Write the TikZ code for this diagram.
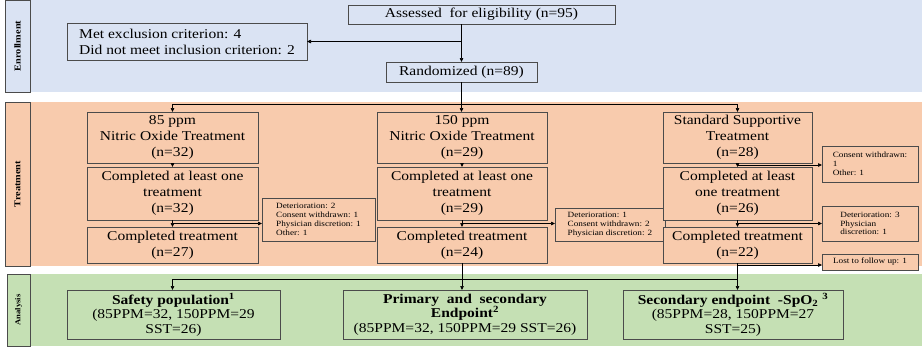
\documentclass[tikz,border=0pt]{standalone}
\usepackage{fontspec}
\setmainfont{Liberation Serif}[FakeStretch=1.15]
\usetikzlibrary{arrows.meta,calc}
\definecolor{enrbg}{RGB}{218,227,243}
\definecolor{trtbg}{RGB}{248,203,173}
\definecolor{anabg}{RGB}{197,224,180}
\definecolor{edge}{RGB}{75,75,75}
\tikzset{
  box/.style={draw=edge, line width=0.8pt, inner sep=2pt, outer sep=0pt, align=center},
  big/.style={font=\fontsize{13.5}{16}\selectfont},
  anatext/.style={font=\fontsize{13.5}{14.5}\selectfont},
  small/.style={font=\fontsize{8}{8.8}\selectfont, align=left, inner xsep=5pt},
  lblbox/.style={draw=edge, line width=0.8pt, inner sep=0pt},
  arr/.style={draw=black, line width=0.7pt, -{Triangle[length=4pt,width=3.5pt]}},
  ln/.style={draw=black, line width=0.7pt},
}
\begin{document}
\begin{tikzpicture}[x=1pt,y=-1pt]
\useasboundingbox (0,0) rectangle (922,346);
% bands
\fill[enrbg] (5,0) rectangle (922,92);
\fill[trtbg] (5,102) rectangle (922,266);
\fill[anabg] (7,274) rectangle (922,346);
\node[lblbox, fill=enrbg, minimum width=25pt, minimum height=92pt, font=\fontsize{9}{10}\selectfont] (lenr) at (17.5,46) {\rotatebox{90}{\textbf{Enrollment}}};
\node[lblbox, fill=trtbg, minimum width=25pt, minimum height=164pt, font=\fontsize{9}{10}\selectfont] (ltrt) at (17.5,184) {\rotatebox{90}{\textbf{Treatment}}};
\node[lblbox, fill=anabg, minimum width=23pt, minimum height=72pt, font=\fontsize{7.5}{9}\selectfont] (lana) at (18.5,310) {\rotatebox{90}{\textbf{Analysis}}};

% enrollment
\node[box, big, fill=enrbg, minimum width=267pt, minimum height=19pt] (assess) at (481.5,14.5) {Assessed\ \ for eligibility (n=95)};
\node[box, big, fill=enrbg, minimum width=240pt, minimum height=37pt, align=left] (excl) at (187,41.5) {Met exclusion criterion: 4\\Did not meet inclusion criterion: 2};
\node[box, big, fill=enrbg, minimum width=151pt, minimum height=20pt] (rand) at (461.5,72) {Randomized (n=89)};

% treatment
\node[box, big, fill=trtbg, minimum width=171pt, minimum height=51pt] (n85) at (172.5,137.5) {85 ppm\\Nitric Oxide Treatment\\(n=32)};
\node[box, big, fill=trtbg, minimum width=171pt, minimum height=53pt] (c85a) at (172.5,193.5) {Completed at least one\\treatment\\(n=32)};
\node[box, big, fill=trtbg, minimum width=171pt, minimum height=36pt] (c85b) at (172.5,245) {Completed treatment\\(n=27)};
\node[box, small, fill=trtbg, minimum width=113pt, minimum height=43pt] (s85) at (318.5,219.5) {Deterioration: 2\\Consent withdrawn: 1\\Physician discretion: 1\\Other: 1};

\node[box, big, fill=trtbg, minimum width=170pt, minimum height=51pt] (n150) at (462,137.5) {150 ppm\\Nitric Oxide Treatment\\(n=29)};
\node[box, big, fill=trtbg, minimum width=170pt, minimum height=53pt] (c150a) at (462,193.5) {Completed at least one\\treatment\\(n=29)};
\node[box, big, fill=trtbg, minimum width=170pt, minimum height=36pt] (c150b) at (462,245) {Completed treatment\\(n=24)};
\node[box, small, fill=trtbg, minimum width=110pt, minimum height=33pt] (s150) at (610,224.5) {Deterioration: 1\\Consent withdrawn: 2\\Physician discretion: 2};

\node[box, big, fill=trtbg, minimum width=149pt, minimum height=51pt] (nsst) at (737.5,137.5) {Standard Supportive\\Treatment\\(n=28)};
\node[box, big, fill=trtbg, minimum width=149pt, minimum height=53pt] (csta) at (737.5,193.5) {Completed at least\\one treatment\\(n=26)};
\node[box, big, fill=trtbg, minimum width=149pt, minimum height=36pt] (cstb) at (737.5,245) {Completed treatment\\(n=22)};
\node[box, small, fill=trtbg, minimum width=96pt, minimum height=36pt] (ss1) at (870,164) {Consent withdrawn:\\1\\Other: 1};
\node[box, small, fill=trtbg, minimum width=96pt, minimum height=35pt] (ss2) at (870,223.5) {Deterioration: 3\\Physician\\discretion: 1};
\node[box, small, fill=trtbg, minimum width=96pt, minimum height=16pt] (lost) at (870,262) {Lost to follow up: 1};

% analysis
\node[box, anatext, fill=anabg, minimum width=213pt, minimum height=49pt] (safety) at (173.5,314.5) {\textbf{Safety population\textsuperscript{1}}\\(85PPM=32, 150PPM=29\\SST=26)};
\node[box, anatext, fill=anabg, minimum width=244pt, minimum height=49pt] (prim) at (465,314.5) {\textbf{Primary\ \ and\ \ secondary}\\\textbf{Endpoint\textsuperscript{2}}\\(85PPM=32, 150PPM=29 SST=26)};
\node[box, anatext, fill=anabg, minimum width=220pt, minimum height=49pt] (sec) at (733,314.5) {\textbf{Secondary endpoint\ \ -SpO\textsubscript{2} \textsuperscript{3}}\\(85PPM=28, 150PPM=27\\SST=25)};

% enrollment connectors
\draw[arr] (assess.south -| rand.north) -- (rand.north);
\draw[arr] (rand.north |- excl.east) -- (excl.east);

% randomization split
\coordinate (split) at (461.5,104);
\draw[arr] (rand.south) -- (rand.south |- n150.north);
\draw[ln] (split -| n85.north) -- (split -| nsst.north);
\draw[arr] (split -| n85.north) -- (n85.north);
\draw[arr] (split -| nsst.north) -- (nsst.north);

% stacked arrows
\draw[arr] (n85.south) -- (c85a.north);
\draw[arr] (c85a.south) -- (c85b.north);
\draw[arr] (n150.south) -- (c150a.north);
\draw[arr] (c150a.south) -- (c150b.north);
\draw[arr] (nsst.south) -- (csta.north);
\draw[arr] (csta.south) -- (cstb.north);

% side arrows
\coordinate (j85) at ($(c85a.south)!0.5!(c85b.north)$);
\draw[arr] (j85) -- (j85 -| s85.west);
\coordinate (j150) at ($(c150a.south)!0.5!(c150b.north)$);
\draw[arr] (j150) -- (j150 -| s150.west);
\coordinate (js1) at ($(nsst.south)!0.5!(csta.north)$);
\draw[arr] (js1) -- (js1 -| ss1.west);
\coordinate (js2) at ($(csta.south)!0.5!(cstb.north)$);
\draw[arr] (js2) -- (js2 -| ss2.west);
\coordinate (jl) at ($(cstb.south)+(0,2)$);
\draw[arr] (jl) -- (jl -| lost.west);

% analysis connectors
\coordinate (ah) at (461.5,279);
\draw[ln] (ah -| c85b.south) -- (ah -| cstb.south);
\draw[arr] (ah -| c85b.south) -- (c85b.south |- safety.north);
\draw[arr] (c150b.south) -- (c150b.south |- prim.north);
\draw[arr] (cstb.south) -- (cstb.south |- sec.north);
\end{tikzpicture}
\end{document}
